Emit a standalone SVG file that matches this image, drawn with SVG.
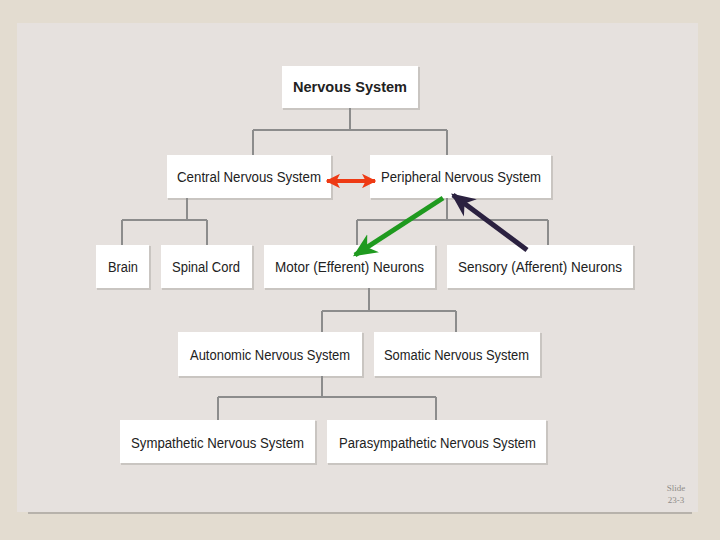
<svg xmlns="http://www.w3.org/2000/svg" width="720" height="540" viewBox="0 0 720 540">
<defs>
<style>
.box{fill:#ffffff;}
.sh{fill:#c9c5c1;}
.t{font-family:"Liberation Sans","DejaVu Sans",sans-serif;font-size:14px;fill:#222;text-anchor:middle;}
.b{font-weight:bold;}
.ln{stroke:#8c8c8c;stroke-width:2;fill:none;}
</style>
<marker id="red" viewBox="0 0 10 10" refX="9" refY="5" markerWidth="3.6" markerHeight="3.6" orient="auto-start-reverse"><path d="M0,0 L10,5 L0,10 L2.5,5 z" fill="#ee3a14"/></marker>
<marker id="grn" viewBox="0 0 10 10" refX="9" refY="5" markerWidth="4.8" markerHeight="4.8" orient="auto"><path d="M0,0.5 L10,5 L0,9.5 L3,5 z" fill="#1f9a1f"/></marker>
<marker id="nav" viewBox="0 0 10 10" refX="9" refY="5" markerWidth="4.8" markerHeight="4.8" orient="auto"><path d="M0,0.5 L10,5 L0,9.5 L3,5 z" fill="#2b2140"/></marker>
</defs>
<rect x="0" y="0" width="720" height="540" fill="#e3dcd0"/>
<rect x="17" y="23" width="681" height="489" fill="#e6e1de"/>
<line x1="28" y1="513" x2="692" y2="513" stroke="#a9a59f" stroke-width="1.5"/>
<g id="n-nervous"><rect class="sh" x="283" y="67" width="137" height="43"/><rect class="box" x="282" y="66" width="136" height="42"/><text class="t b" x="350" y="92" textLength="114" lengthAdjust="spacingAndGlyphs">Nervous System</text></g>
<g id="n-cns"><rect class="sh" x="168" y="156" width="165" height="44"/><rect class="box" x="167" y="155" width="164" height="43"/><text class="t" x="249" y="182" textLength="144" lengthAdjust="spacingAndGlyphs">Central Nervous System</text></g>
<g id="n-pns"><rect class="sh" x="371" y="156" width="182" height="44"/><rect class="box" x="370" y="155" width="181" height="43"/><text class="t" x="461" y="182" textLength="160" lengthAdjust="spacingAndGlyphs">Peripheral Nervous System</text></g>
<g id="n-brain"><rect class="sh" x="97" y="246" width="54" height="44"/><rect class="box" x="96" y="245" width="53" height="43"/><text class="t" x="123" y="272" textLength="30" lengthAdjust="spacingAndGlyphs">Brain</text></g>
<g id="n-spinal"><rect class="sh" x="162" y="246" width="92" height="44"/><rect class="box" x="161" y="245" width="91" height="43"/><text class="t" x="206" y="272" textLength="68" lengthAdjust="spacingAndGlyphs">Spinal Cord</text></g>
<g id="n-motor"><rect class="sh" x="265" y="246" width="172" height="44"/><rect class="box" x="264" y="245" width="171" height="43"/><text class="t" x="349.5" y="272" textLength="149" lengthAdjust="spacingAndGlyphs">Motor (Efferent) Neurons</text></g>
<g id="n-sensory"><rect class="sh" x="448" y="246" width="187" height="44"/><rect class="box" x="447" y="245" width="186" height="43"/><text class="t" x="540" y="272" textLength="164" lengthAdjust="spacingAndGlyphs">Sensory (Afferent) Neurons</text></g>
<g id="n-autonomic"><rect class="sh" x="179" y="333" width="185" height="45"/><rect class="box" x="178" y="332" width="184" height="44"/><text class="t" x="270" y="360" textLength="160" lengthAdjust="spacingAndGlyphs">Autonomic Nervous System</text></g>
<g id="n-somatic"><rect class="sh" x="375" y="333" width="167" height="45"/><rect class="box" x="374" y="332" width="166" height="44"/><text class="t" x="456.5" y="360" textLength="145" lengthAdjust="spacingAndGlyphs">Somatic Nervous System</text></g>
<g id="n-sympathetic"><rect class="sh" x="121" y="421" width="196" height="44"/><rect class="box" x="120" y="420" width="195" height="43"/><text class="t" x="217.5" y="448" textLength="173" lengthAdjust="spacingAndGlyphs">Sympathetic Nervous System</text></g>
<g id="n-parasympathetic"><rect class="sh" x="328" y="421" width="220" height="44"/><rect class="box" x="327" y="420" width="219" height="43"/><text class="t" x="437.5" y="448" textLength="197" lengthAdjust="spacingAndGlyphs">Parasympathetic Nervous System</text></g>
<g id="connectors">
<path class="ln" d="M350,108 V130 M253,130 H447 M253,130 V155 M447,130 V155"/>
<path class="ln" d="M187,198 V220 M122,220 H207 M122,220 V245 M207,220 V245"/>
<path class="ln" d="M447,198 V220 M357,220 H548 M357,220 V245 M548,220 V245"/>
<path class="ln" d="M369,288 V311 M322,311 H456 M322,311 V332 M456,311 V332"/>
<path class="ln" d="M322,376 V397 M218,397 H436 M218,397 V420 M436,397 V420"/>
<line x1="327" y1="181" x2="375" y2="181" stroke="#ee3a14" stroke-width="4" marker-start="url(#red)" marker-end="url(#red)"/>
<line x1="443" y1="198" x2="355" y2="255" stroke="#1f9a1f" stroke-width="5" marker-end="url(#grn)"/>
<line x1="527" y1="250" x2="453" y2="195" stroke="#2b2140" stroke-width="5" marker-end="url(#nav)"/>
</g>
<text x="676" y="491" font-family="Liberation Serif,serif" font-size="9" fill="#8f8c88" text-anchor="middle">Slide</text>
<text x="676" y="503" font-family="Liberation Serif,serif" font-size="9" fill="#8f8c88" text-anchor="middle">23-3</text>
</svg>
